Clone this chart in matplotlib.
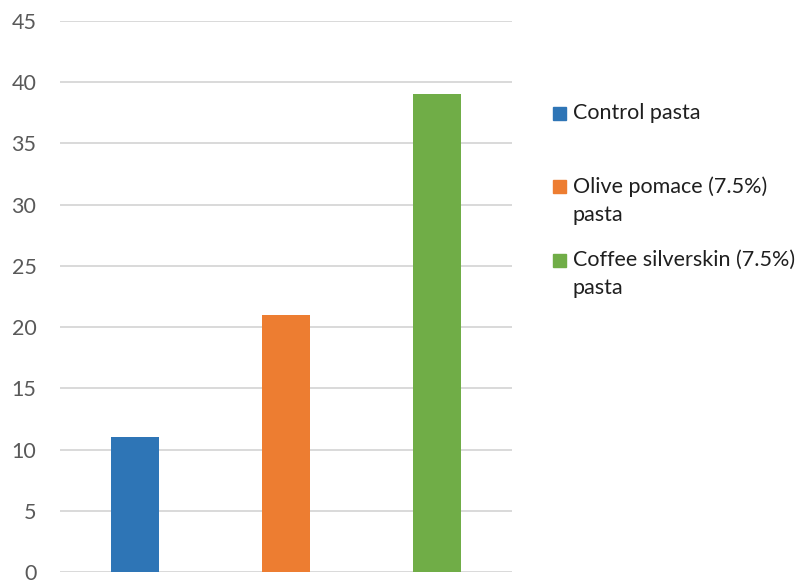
import matplotlib
matplotlib.use("Agg")
import matplotlib.pyplot as plt
from matplotlib.patches import Rectangle

plt.rcParams['font.family'] = ['Lato', 'DejaVu Sans']

categories = ["Control pasta", "Olive pomace (7.5%)\npasta", "Coffee silverskin (7.5%)\npasta"]
values = [11, 21, 39]
colors = ["#2E75B6", "#ED7D31", "#70AD47"]
y_ticks = [0, 5, 10, 15, 20, 25, 30, 35, 40, 45]

fig = plt.figure(figsize=(8.0, 5.81), dpi=100)
ax = fig.add_axes([60 / 800, 1 - 572 / 581, 452 / 800, 551 / 581])

x = list(range(len(values)))
ax.bar(x, values, width=0.32, color=colors, zorder=3)

ax.set_xlim(-0.5, len(values) - 0.5)
ax.set_ylim(0, 45)
ax.set_yticks(y_ticks)
ax.set_xticks([])
ax.yaxis.grid(True, color="#D9D9D9", linewidth=1.4, zorder=0)
for s in ax.spines.values():
    s.set_visible(False)
ax.tick_params(axis="y", length=0, pad=17, labelsize=15.5, labelcolor="#595959")
for lbl in ax.get_yticklabels():
    lbl.set_horizontalalignment("right")

# legend on the right, one slot per series; square aligned with first line
legend_rows = [113, 186, 260]
for label, color, ty in zip(categories, colors, legend_rows):
    fig.patches.append(Rectangle((553 / 800, 1 - (ty + 7) / 581), 13 / 800, 13 / 581,
                                 transform=fig.transFigure, color=color))
    fig.text(573 / 800, 1 - (ty - 10) / 581, label, fontsize=15.5, color="#1F1F1F",
             ha="left", va="top", linespacing=1.5)

fig.savefig("out.png", dpi=100)
